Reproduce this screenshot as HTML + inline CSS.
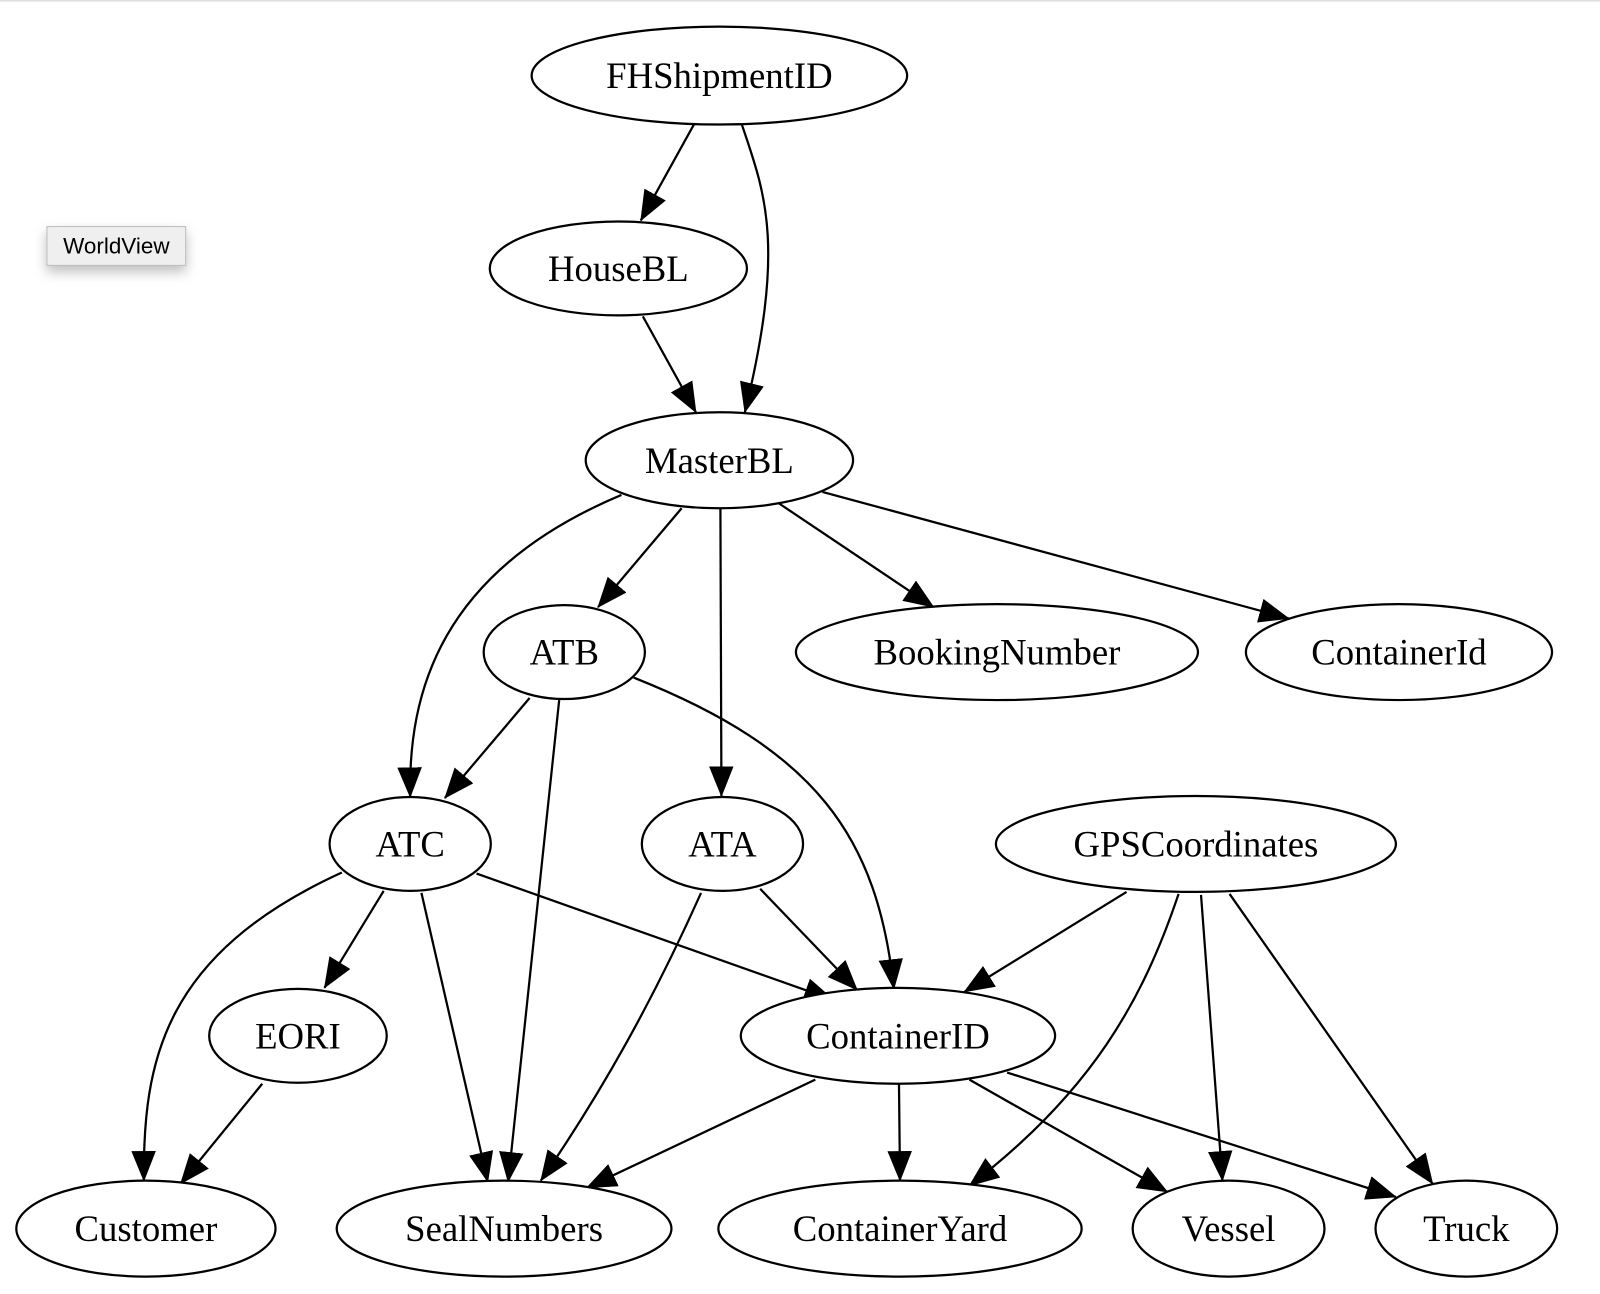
<!DOCTYPE html>
<html><head><meta charset="utf-8"><style>
html,body{margin:0;padding:0;background:#fff;width:1600px;height:1294px;overflow:hidden}
svg{display:block}
text{font-family:"Liberation Serif",serif;font-size:36px;text-anchor:middle;dominant-baseline:central;fill:#000}
</style></head><body>
<svg width="1600" height="1294" viewBox="0 0 1568 1268" xmlns="http://www.w3.org/2000/svg">
<defs>
<marker id="ah" viewBox="0 0 30 24" refX="29" refY="12" markerWidth="30" markerHeight="24" orient="auto" markerUnits="userSpaceOnUse">
<path d="M0,0 L30,12 L0,24 z" fill="#000"/>
</marker>
<filter id="sh" x="-30%" y="-50%" width="160%" height="220%"><feDropShadow dx="0" dy="6" stdDeviation="6" flood-color="#000" flood-opacity="0.25"/></filter>
</defs>
<rect x="0" y="0" width="1568" height="1.5" fill="#ddd"/>
<rect x="46" y="222" width="136" height="38" fill="#efefef" stroke="#bbb" stroke-width="1" filter="url(#sh)"/>
<text x="114" y="241" style="font-family:'Liberation Sans',sans-serif;font-size:22px">WorldView</text>

<g fill="none" stroke="#000" stroke-width="2.2" marker-end="url(#ah)">
<path d="M680,122 L628,216"/>
<path d="M727,122 C750,190 770,240 730,404"/>
<path d="M630,310 L682,404"/>
<path d="M668,498 L586,595"/>
<path d="M706,498 L707,780"/>
<path d="M763,493 L915,595"/>
<path d="M806,482 L1263,606"/>
<path d="M609,485 C430,560 400,680 402,781"/>
<path d="M519,684 L436,782"/>
<path d="M548,686 L498,1158"/>
<path d="M621,664 C800,735 860,820 876,969"/>
<path d="M376,873 L318,968"/>
<path d="M413,875 L478,1158"/>
<path d="M467,856 L817,980"/>
<path d="M335,855 C160,935 140,1040 141,1157"/>
<path d="M687,875 C640,980 590,1070 530,1157"/>
<path d="M745,871 L840,970"/>
<path d="M1104,874 L945,972"/>
<path d="M1155,876 C1120,980 1070,1070 950,1162"/>
<path d="M1177,877 L1198,1157"/>
<path d="M1205,876 L1404,1160"/>
<path d="M257,1062 L177,1160"/>
<path d="M799,1058 L575,1164"/>
<path d="M881,1062 L882,1157"/>
<path d="M950,1058 L1144,1168"/>
<path d="M987,1051 L1368,1173"/>
</g>

<g fill="#fff" stroke="#000" stroke-width="2.2">
<ellipse cx="705" cy="74" rx="184" ry="48"/>
<ellipse cx="606" cy="263" rx="126" ry="46"/>
<ellipse cx="705" cy="451" rx="131" ry="47"/>
<ellipse cx="553" cy="639" rx="79" ry="46"/>
<ellipse cx="977" cy="639" rx="197" ry="47"/>
<ellipse cx="1371" cy="639" rx="150" ry="47"/>
<ellipse cx="402" cy="827" rx="79" ry="46"/>
<ellipse cx="708" cy="827" rx="79" ry="46"/>
<ellipse cx="1172" cy="827" rx="196" ry="47"/>
<ellipse cx="292" cy="1015" rx="87" ry="46"/>
<ellipse cx="880" cy="1015" rx="154" ry="47"/>
<ellipse cx="143" cy="1204" rx="127" ry="47"/>
<ellipse cx="494" cy="1204" rx="164" ry="47"/>
<ellipse cx="882" cy="1204" rx="178" ry="47"/>
<ellipse cx="1204" cy="1204" rx="94" ry="47"/>
<ellipse cx="1437" cy="1204" rx="89" ry="47"/>
</g>

<text x="705" y="74">FHShipmentID</text>
<text x="606" y="263">HouseBL</text>
<text x="705" y="451">MasterBL</text>
<text x="553" y="639">ATB</text>
<text x="977" y="639">BookingNumber</text>
<text x="1371" y="639">ContainerId</text>
<text x="402" y="827">ATC</text>
<text x="708" y="827">ATA</text>
<text x="1172" y="827">GPSCoordinates</text>
<text x="292" y="1015">EORI</text>
<text x="880" y="1015">ContainerID</text>
<text x="143" y="1204">Customer</text>
<text x="494" y="1204">SealNumbers</text>
<text x="882" y="1204">ContainerYard</text>
<text x="1204" y="1204">Vessel</text>
<text x="1437" y="1204">Truck</text>
</svg>
</body></html>
